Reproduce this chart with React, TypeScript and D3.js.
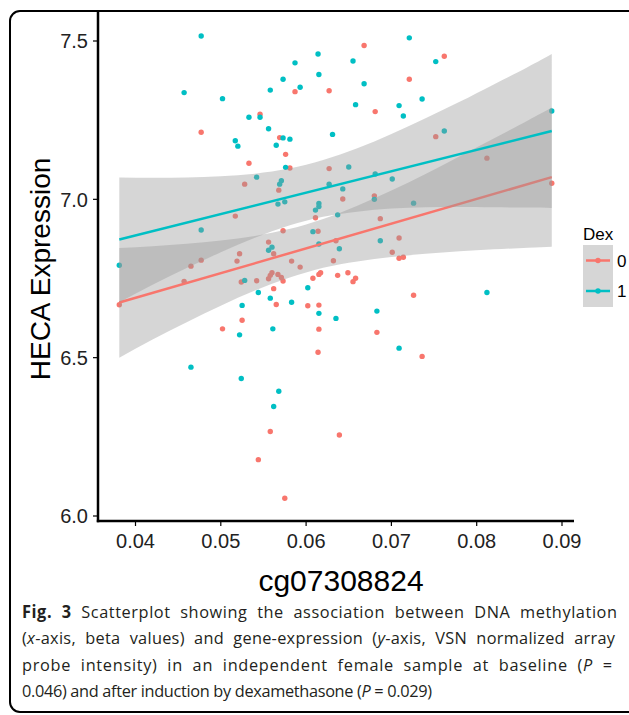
import * as d3 from 'd3';

// Dex = 0 (red) points: cg07308824 beta value, HECA expression
const dex0X = [0.0477, 0.0533, 0.0668, 0.0721, 0.0587, 0.0627, 0.0681, 0.0546, 0.0569, 0.0576, 0.0581, 0.0627, 0.0762, 0.0752, 0.0812, 0.0528, 0.0517, 0.0522, 0.0519, 0.0477, 0.0465, 0.0457, 0.0524, 0.0381, 0.0525, 0.0502, 0.0568, 0.0643, 0.068, 0.0611, 0.0573, 0.0614, 0.0687, 0.0709, 0.0635, 0.0556, 0.0562, 0.0701, 0.0709, 0.0714, 0.0583, 0.0632, 0.0593, 0.0542, 0.0556, 0.0558, 0.056, 0.0567, 0.0571, 0.0573, 0.0615, 0.0617, 0.0608, 0.0637, 0.0649, 0.0658, 0.0655, 0.0562, 0.0565, 0.0602, 0.0615, 0.0615, 0.0683, 0.0888, 0.0726, 0.0614, 0.0558, 0.0639, 0.0544, 0.0575, 0.0736];
const dex0Y = [7.212, 7.114, 7.486, 7.379, 7.34, 7.343, 7.277, 7.269, 7.195, 7.142, 7.099, 7.097, 7.452, 7.198, 7.13, 7.048, 6.947, 6.828, 6.805, 6.808, 6.789, 6.741, 6.739, 6.667, 6.618, 6.591, 7.029, 7.001, 7.011, 6.942, 6.901, 6.899, 6.939, 6.878, 6.869, 6.865, 6.828, 6.833, 6.814, 6.817, 6.805, 6.806, 6.786, 6.743, 6.749, 6.76, 6.768, 6.763, 6.753, 6.742, 6.763, 6.768, 6.751, 6.76, 6.768, 6.751, 6.74, 6.718, 6.668, 6.664, 6.666, 6.59, 6.58, 7.051, 6.697, 6.517, 6.267, 6.256, 6.178, 6.056, 6.504];

// Dex = 1 (teal) points
const dex1X = [0.0477, 0.0457, 0.0502, 0.0533, 0.0517, 0.052, 0.0721, 0.0614, 0.0587, 0.0655, 0.0615, 0.0573, 0.0593, 0.0558, 0.0668, 0.0658, 0.0709, 0.0714, 0.0546, 0.0556, 0.0573, 0.0581, 0.0565, 0.0631, 0.0576, 0.065, 0.0542, 0.0571, 0.0681, 0.0701, 0.0752, 0.0736, 0.0888, 0.0762, 0.0477, 0.0381, 0.0528, 0.0525, 0.0522, 0.0569, 0.0567, 0.0575, 0.0627, 0.0643, 0.068, 0.0615, 0.0615, 0.0611, 0.0637, 0.0608, 0.0687, 0.0615, 0.0556, 0.056, 0.0639, 0.0544, 0.0558, 0.0602, 0.0583, 0.0615, 0.0635, 0.0683, 0.0561, 0.0709, 0.0726, 0.0812, 0.0465, 0.0524, 0.0568, 0.0562];
const dex1Y = [7.516, 7.337, 7.318, 7.259, 7.185, 7.168, 7.51, 7.459, 7.431, 7.437, 7.394, 7.379, 7.354, 7.345, 7.365, 7.299, 7.296, 7.263, 7.259, 7.223, 7.194, 7.19, 7.171, 7.205, 7.101, 7.102, 7.07, 7.059, 7.08, 7.064, 7.435, 7.317, 7.279, 7.216, 6.903, 6.792, 6.744, 6.665, 6.572, 7.048, 6.985, 6.992, 7.048, 7.033, 7.0, 6.987, 6.977, 6.966, 6.951, 6.898, 6.869, 6.859, 6.839, 6.849, 6.844, 6.706, 6.688, 6.721, 6.675, 6.64, 6.624, 6.647, 6.591, 6.53, 6.988, 6.706, 6.47, 6.434, 6.394, 6.346];

// fitted lines and 95% bands
const bandX = [0.0381, 0.042, 0.046, 0.05, 0.054, 0.058, 0.062, 0.066, 0.07, 0.074, 0.078, 0.082, 0.086, 0.0888];
const dex0Low = [6.5, 6.557, 6.612, 6.664, 6.712, 6.752, 6.784, 6.804, 6.818, 6.828, 6.836, 6.842, 6.847, 6.85];
const dex0High = [6.846, 6.852, 6.86, 6.87, 6.884, 6.906, 6.938, 6.98, 7.028, 7.08, 7.136, 7.192, 7.249, 7.29];
const dex1Low = [6.675, 6.73, 6.783, 6.833, 6.879, 6.917, 6.945, 6.961, 6.971, 6.975, 6.976, 6.975, 6.974, 6.973];
const dex1High = [7.069, 7.068, 7.069, 7.073, 7.081, 7.097, 7.124, 7.161, 7.206, 7.256, 7.308, 7.363, 7.418, 7.459];
const fitX = [0.0381, 0.0888];
const dex0Fit = [6.674, 7.07];
const dex1Fit = [6.873, 7.216];

const xTicks = [0.04, 0.05, 0.06, 0.07, 0.08, 0.09];
const yTicks = [6.0, 6.5, 7.0, 7.5];
const groups = ['0', '1'];
const colors = ['#F8766D', '#00BFC4'];

const W = 629;
const H = 715;
const panel = { left: 98, right: 574, top: 11, bottom: 521 };

// caption is a justified paragraph, set in a slightly narrow face
const capScale = 0.96;

export default function App() {
  const x = d3.scaleLinear().domain([0.04, 0.09]).range([135.5, 562]);
  const y = d3.scaleLinear().domain([6.0, 7.5]).range([516, 41]);

  const area = d3
    .area<number>()
    .x((_, i) => x(bandX[i]))
    .curve(d3.curveNatural);
  const line = d3
    .line<number>()
    .x((_, i) => x(fitX[i]))
    .y((d) => y(d));

  const bandPath = (lo: number[], hi: number[]) =>
    area.y0((_, i) => y(lo[i])).y1((_, i) => y(hi[i]))(lo) || '';

  const font = '"Liberation Sans", Arial, sans-serif';
  const capFont = '"Open Sans", sans-serif';

  return (
    <div style={{ position: 'absolute', left: 0, top: 0 }}>
      <svg width={W} height={H} style={{ display: 'block', background: '#fff' }}>
        {/* figure frame */}
        <rect x={10} y={11} width={660} height={701} rx={10} fill="none" stroke="#000" strokeWidth={2} />

        {/* points first, smooth layers on top */}
        {dex0X.map((v, i) => (
          <circle key={'a' + i} cx={x(v)} cy={y(dex0Y[i])} r={2.7} fill={colors[0]} />
        ))}
        {dex1X.map((v, i) => (
          <circle key={'b' + i} cx={x(v)} cy={y(dex1Y[i])} r={2.7} fill={colors[1]} />
        ))}

        <path d={bandPath(dex0Low, dex0High)} fill="#999999" fillOpacity={0.4} />
        <path d={line(dex0Fit) || ''} fill="none" stroke={colors[0]} strokeWidth={2.5} />
        <path d={bandPath(dex1Low, dex1High)} fill="#999999" fillOpacity={0.4} />
        <path d={line(dex1Fit) || ''} fill="none" stroke={colors[1]} strokeWidth={2.5} />

        {/* axes */}
        <line x1={panel.left} x2={panel.left} y1={panel.top} y2={panel.bottom + 1.2} stroke="#000" strokeWidth={2.5} />
        <line x1={panel.left - 1.2} x2={panel.right} y1={panel.bottom} y2={panel.bottom} stroke="#000" strokeWidth={2.5} />
        {yTicks.map((t) => (
          <g key={'y' + t}>
            <line x1={panel.left - 5} x2={panel.left} y1={y(t)} y2={y(t)} stroke="#000" strokeWidth={1.2} />
            <text x={88} y={y(t)} dy="0.36em" textAnchor="end" fontFamily={font} fontSize={20} fill="#222">
              {d3.format('.1f')(t)}
            </text>
          </g>
        ))}
        {xTicks.map((t) => (
          <g key={'x' + t}>
            <line x1={x(t)} x2={x(t)} y1={panel.bottom} y2={panel.bottom + 5} stroke="#000" strokeWidth={1.2} />
            <text x={x(t)} y={548} textAnchor="middle" fontFamily={font} fontSize={20} fill="#222">
              {d3.format('.2f')(t)}
            </text>
          </g>
        ))}
        <text x={341} y={591} textAnchor="middle" fontFamily={font} fontSize={30} fill="#000">
          cg07308824
        </text>
        <text
          transform="translate(40,269) rotate(-90)"
          textAnchor="middle"
          dy="0.36em"
          fontFamily={font}
          fontSize={28}
          fill="#000"
        >
          HECA Expression
        </text>

        {/* legend */}
        <text x={583} y={240} fontFamily={font} fontSize={17} fill="#000">
          Dex
        </text>
        <rect x={583} y={245} width={30} height={62} fill="#d6d6d6" />
        {groups.map((g, i) => (
          <g key={'l' + g}>
            <line x1={586} x2={610} y1={260.5 + i * 30.5} y2={260.5 + i * 30.5} stroke={colors[i]} strokeWidth={2.5} />
            <circle cx={598} cy={260.5 + i * 30.5} r={2.7} fill={colors[i]} />
            <text x={617} y={260.5 + i * 30.5} dy="0.36em" fontFamily={font} fontSize={17} fill="#000">
              {g}
            </text>
          </g>
        ))}

        {/* caption */}
        <g transform={`translate(22,0) scale(${capScale},1)`} fontFamily={capFont} fontSize={17} fill="#231f20">
          <text x={0} y={618} wordSpacing={5} textLength={595 / capScale} lengthAdjust="spacing">
            <tspan fontWeight="bold">Fig. 3</tspan> Scatterplot showing the association between DNA methylation
          </text>
          <text x={0} y={644.5} wordSpacing={5} textLength={593 / capScale} lengthAdjust="spacing">
            (<tspan fontStyle="italic">x</tspan>-axis, beta values) and gene-expression (<tspan fontStyle="italic">y</tspan>-axis, VSN normalized array
          </text>
          <text x={0} y={671} wordSpacing={5} textLength={590 / capScale} lengthAdjust="spacing">
            probe intensity) in an independent female sample at baseline (<tspan fontStyle="italic">P</tspan> =
          </text>
          <text x={0} y={697.5} textLength={410 / capScale} lengthAdjust="spacing">
            0.046) and after induction by dexamethasone (<tspan fontStyle="italic">P</tspan> = 0.029)
          </text>
        </g>
      </svg>
    </div>
  );
}
